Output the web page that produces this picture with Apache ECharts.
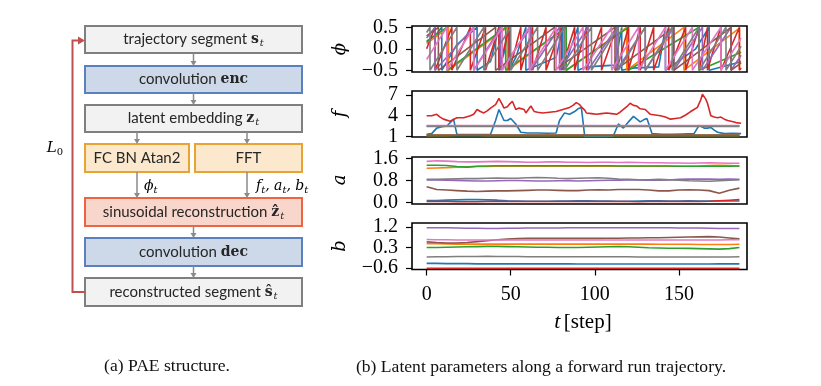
<!DOCTYPE html>
<html><head><meta charset="utf-8">
<script src="https://cdn.jsdelivr.net/npm/echarts@6/dist/echarts.min.js"></script>
<style>html,body{margin:0;padding:0;background:#fff}#c{width:821px;height:386px}</style>
</head><body><div id="c"></div>
<script>
// ---------------- DATA ----------------
const seriesNames = ['blue','orange','green','red','purple','brown','pink','gray'];
const colors = ['#1f77b4','#ff7f0e','#2ca02c','#d62728','#9467bd','#8c564b','#e377c2','#7f7f7f'];

// phase phi: [t, phi] vertices
const phiBlue = [[0,0.15],[6,0.35],[9,0.5],[9,-0.5],[18,0.1],[30,0.5],[30,-0.5],[38,-0.3],[43,0.5],[43,-0.5],[46,-0.1],[49,0.5],[49,-0.5],[53,-0.2],[59,0.5],[59,-0.5],[77,-0.2],[81,0.5],[81,-0.5],[90,0.5],[90,-0.5],[95,-0.42],[112,-0.38],[116,0.5],[116,-0.5],[122,-0.45],[138,-0.42],[142,0.5],[142,-0.5],[160,0.0],[168,0.5],[168,-0.5],[187,-0.3]];
const phiOrange = [[0,0.12],[13,0.5],[13,-0.5],[48,0.5],[48,-0.5],[83,0.5],[83,-0.5],[119,0.5],[119,-0.5],[153,0.5],[153,-0.5],[186,0.48],[186,-0.48],[187,-0.45]];
const phiGreen = [[0,0.18],[12,0.5],[12,-0.5],[47,0.5],[47,-0.5],[83,0.5],[83,-0.5],[120,0.5],[120,-0.5],[162,0.5],[162,-0.5],[187,-0.08]];
const phiRed = [[0,0.0],[5,0.5],[5,-0.5],[15,0.5],[15,-0.5],[26,0.5],[26,-0.5],[35,0.5],[35,-0.5],[43,0.5],[43,-0.5],[49,0.5],[49,-0.5],[52,-0.1],[56,0.5],[56,-0.5],[63,0.5],[63,-0.5],[71,0.5],[71,-0.5],[80,0.5],[80,-0.5],[88,0.5],[88,-0.5],[95,0.5],[95,-0.5],[104,0.5],[104,-0.5],[113,0.5],[113,-0.5],[120,0.5],[120,-0.5],[127,0.5],[127,-0.5],[135,0.5],[135,-0.5],[144,0.5],[144,-0.5],[154,0.5],[154,-0.5],[162,0.5],[162,-0.5],[167,0.5],[167,-0.5],[170,-0.1],[175,0.5],[175,-0.5],[186,0.5],[186,-0.5],[187,-0.45]];
const phiPurple = [[0,0.25],[5,0.5],[5,-0.5],[28,0.5],[28,-0.5],[44,0.5],[44,-0.5],[62,0.5],[62,-0.5],[79,0.5],[79,-0.5],[96,0.5],[96,-0.5],[113,0.5],[113,-0.5],[130,0.5],[130,-0.5],[147,0.5],[147,-0.5],[164,0.5],[164,-0.5],[181,0.5],[181,-0.5],[187,-0.15]];
const phiBrown = [[0,0.3],[7,0.5],[7,-0.5],[41,0.5],[41,-0.5],[76,0.5],[76,-0.5],[112,0.5],[112,-0.5],[147,0.5],[147,-0.5],[181,0.5],[181,-0.5],[187,-0.33]];
const phiPink = [[0,-0.25],[12,0.5],[12,-0.5],[28,0.5],[28,-0.5],[45,0.5],[45,-0.5],[61,0.5],[61,-0.5],[77,0.5],[77,-0.5],[93,0.5],[93,-0.5],[110,0.5],[110,-0.5],[126,0.5],[126,-0.5],[142,0.5],[142,-0.5],[158,0.5],[158,-0.5],[175,0.5],[175,-0.5],[187,0.25]];
const phiGray = [[0,0.38],[2,0.5],[2,-0.5],[18,0.5],[18,-0.5],[34,0.5],[34,-0.5],[50,0.5],[50,-0.5],[66,0.5],[66,-0.5],[82,0.5],[82,-0.5],[98,0.5],[98,-0.5],[114,0.5],[114,-0.5],[130,0.5],[130,-0.5],[146,0.5],[146,-0.5],[162,0.5],[162,-0.5],[178,0.5],[178,-0.5],[187,0.06]];

// sample times for the smooth parameters
const tSmooth = [0,6,12,18,24,30,36,42,48,54,60,66,72,78,84,90,96,102,108,114,120,126,132,138,144,150,156,162,168,174,180,186];

// frequency f
const fBlue = [[0,1.3],[3,1.4],[6,2.2],[9,2.4],[12,2.5],[14,3.0],[16,3.5],[18,1.3],[24,1.25],[30,1.25],[38,1.3],[41,3.3],[43,4.9],[46,3.3],[48,3.3],[50,3.6],[53,2.8],[56,1.6],[60,1.5],[66,1.5],[72,1.45],[77,1.5],[79,3.3],[82,4.4],[85,4.2],[88,4.6],[90,5.0],[92,5.2],[94,1.0],[100,1.0],[106,1.0],[111,1.05],[114,2.8],[117,2.2],[120,3.1],[123,3.9],[125,3.5],[127,3.1],[129,3.4],[131,3.6],[134,1.4],[140,1.3],[146,1.3],[152,1.35],[159,1.4],[162,2.6],[165,2.2],[167,2.2],[169,2.3],[171,1.9],[173,1.6],[177,1.4],[182,1.45],[187,1.4]];
const fRed = [[0,4.0],[3,4.0],[6,4.2],[8,3.8],[10,3.5],[14,3.2],[18,3.7],[22,3.7],[26,4.0],[28,4.2],[30,4.9],[32,4.6],[34,4.4],[36,4.7],[38,5.1],[41,5.6],[43,6.5],[45,5.6],[46,5.1],[48,5.3],[49,5.6],[51,6.1],[53,4.9],[55,5.1],[56,5.3],[58,4.9],[59,4.4],[62,5.4],[64,4.6],[66,4.5],[69,4.4],[73,4.5],[77,4.6],[81,4.9],[85,5.2],[87,5.5],[89,5.9],[91,5.6],[92,5.3],[94,4.8],[95,4.4],[98,4.3],[101,4.2],[104,4.3],[107,4.4],[110,4.3],[113,4.2],[115,4.5],[117,4.9],[119,5.3],[121,5.8],[123,5.5],[125,5.4],[127,5.0],[128,5.2],[130,4.9],[133,4.2],[136,4.1],[139,4.0],[142,3.8],[145,3.5],[148,3.6],[151,3.7],[154,4.1],[157,4.6],[159,4.9],[161,5.2],[163,6.3],[164,7.1],[166,6.4],[167,5.8],[169,4.0],[171,3.8],[173,3.7],[175,3.8],[177,3.5],[179,3.3],[181,3.2],[184,3.0],[187,2.9]];
const fOrange = [1.15,1.15,1.15,1.16,1.16,1.16,1.15,1.15,1.15,1.15,1.15,1.15,1.15,1.15,1.15,1.15,1.15,1.15,1.15,1.15,1.15,1.15,1.15,1.15,1.15,1.15,1.15,1.15,1.15,1.15,1.15,1.15];
const fGreen = [1.12,1.12,1.12,1.12,1.12,1.12,1.12,1.12,1.12,1.12,1.12,1.12,1.12,1.12,1.12,1.12,1.12,1.12,1.12,1.12,1.12,1.12,1.12,1.12,1.12,1.12,1.12,1.12,1.12,1.12,1.12,1.12];
const fPurple = [2.52,2.52,2.52,2.52,2.52,2.52,2.52,2.52,2.52,2.52,2.52,2.52,2.52,2.52,2.52,2.52,2.52,2.52,2.52,2.52,2.52,2.52,2.52,2.52,2.52,2.52,2.52,2.52,2.52,2.52,2.52,2.52];
const fBrown = [1.2,1.2,1.2,1.2,1.2,1.2,1.2,1.2,1.2,1.2,1.2,1.2,1.2,1.2,1.2,1.2,1.2,1.2,1.2,1.2,1.2,1.2,1.2,1.2,1.2,1.2,1.2,1.2,1.2,1.2,1.2,1.2];
const fPink = [2.57,2.57,2.57,2.57,2.57,2.57,2.57,2.57,2.57,2.57,2.57,2.57,2.57,2.57,2.57,2.57,2.57,2.57,2.57,2.57,2.57,2.57,2.57,2.57,2.57,2.57,2.57,2.57,2.57,2.57,2.57,2.57];
const fGray = [2.45,2.45,2.45,2.45,2.45,2.45,2.45,2.45,2.45,2.45,2.45,2.45,2.45,2.45,2.45,2.45,2.45,2.45,2.45,2.45,2.45,2.45,2.45,2.45,2.45,2.45,2.45,2.45,2.45,2.45,2.45,2.45];

// amplitude a
const aBlue = [0.07,0.07,0.08,0.09,0.10,0.10,0.09,0.08,0.06,0.05,0.04,0.04,0.04,0.05,0.05,0.06,0.06,0.05,0.05,0.04,0.04,0.05,0.06,0.06,0.05,0.05,0.06,0.05,0.05,0.05,0.05,0.05];
const aOrange = [1.25,1.26,1.27,1.29,1.30,1.31,1.31,1.32,1.32,1.32,1.32,1.32,1.32,1.32,1.32,1.32,1.32,1.32,1.32,1.32,1.32,1.32,1.32,1.32,1.32,1.32,1.32,1.33,1.35,1.36,1.35,1.33];
const aGreen = [1.36,1.36,1.35,1.31,1.29,1.32,1.33,1.34,1.34,1.34,1.34,1.34,1.34,1.34,1.34,1.34,1.34,1.34,1.34,1.33,1.33,1.33,1.33,1.33,1.33,1.32,1.32,1.32,1.32,1.32,1.32,1.33];
const aRed = [0.03,0.03,0.03,0.02,0.02,0.02,0.03,0.03,0.03,0.03,0.03,0.03,0.03,0.03,0.03,0.03,0.03,0.03,0.03,0.03,0.03,0.02,0.03,0.03,0.03,0.03,0.03,0.03,0.04,0.06,0.08,0.10];
const aPurple = [0.82,0.82,0.81,0.80,0.79,0.78,0.78,0.79,0.80,0.80,0.79,0.78,0.78,0.79,0.79,0.78,0.79,0.80,0.81,0.81,0.82,0.82,0.81,0.81,0.82,0.84,0.85,0.85,0.85,0.84,0.85,0.84];
const aBrown = [0.57,0.47,0.45,0.43,0.41,0.40,0.41,0.42,0.42,0.43,0.44,0.45,0.45,0.44,0.43,0.43,0.45,0.46,0.45,0.47,0.47,0.47,0.45,0.42,0.42,0.45,0.46,0.45,0.43,0.33,0.44,0.52];
const aPink = [1.50,1.52,1.51,1.49,1.48,1.48,1.49,1.50,1.49,1.48,1.47,1.47,1.48,1.48,1.47,1.47,1.46,1.47,1.47,1.46,1.47,1.46,1.45,1.45,1.44,1.44,1.43,1.44,1.45,1.44,1.43,1.43];
const aGray = [0.84,0.84,0.85,0.86,0.87,0.87,0.88,0.89,0.88,0.88,0.90,0.91,0.90,0.88,0.87,0.88,0.89,0.90,0.88,0.85,0.84,0.83,0.83,0.84,0.83,0.81,0.79,0.78,0.77,0.79,0.81,0.83];

// offset b
const bBlue = [-0.40,-0.40,-0.41,-0.41,-0.41,-0.42,-0.42,-0.42,-0.42,-0.42,-0.42,-0.42,-0.42,-0.42,-0.42,-0.43,-0.43,-0.43,-0.43,-0.43,-0.43,-0.43,-0.43,-0.43,-0.43,-0.43,-0.43,-0.43,-0.43,-0.42,-0.42,-0.42];
const bOrange = [0.47,0.47,0.46,0.45,0.45,0.45,0.45,0.45,0.45,0.45,0.45,0.45,0.45,0.45,0.45,0.45,0.45,0.45,0.45,0.45,0.45,0.45,0.45,0.44,0.44,0.44,0.44,0.43,0.43,0.43,0.43,0.44];
const bGreen = [0.30,0.30,0.31,0.32,0.33,0.34,0.35,0.35,0.34,0.33,0.32,0.31,0.31,0.30,0.30,0.30,0.31,0.32,0.33,0.34,0.33,0.31,0.29,0.28,0.27,0.27,0.26,0.25,0.24,0.23,0.25,0.30];
const bRed = [-0.62,-0.62,-0.62,-0.62,-0.62,-0.62,-0.62,-0.62,-0.62,-0.62,-0.62,-0.62,-0.62,-0.62,-0.62,-0.62,-0.62,-0.62,-0.62,-0.62,-0.62,-0.62,-0.62,-0.62,-0.62,-0.62,-0.62,-0.62,-0.62,-0.62,-0.62,-0.62];
const bPurple = [1.17,1.17,1.17,1.16,1.15,1.15,1.14,1.14,1.15,1.15,1.16,1.16,1.16,1.16,1.17,1.17,1.17,1.17,1.17,1.17,1.17,1.17,1.17,1.17,1.17,1.16,1.16,1.16,1.15,1.14,1.14,1.14];
const bBrown = [0.55,0.52,0.50,0.50,0.52,0.56,0.60,0.64,0.67,0.69,0.70,0.70,0.70,0.70,0.70,0.70,0.70,0.70,0.71,0.71,0.72,0.72,0.73,0.73,0.74,0.75,0.76,0.77,0.78,0.76,0.72,0.68];
const bPink = [0.65,0.64,0.64,0.63,0.63,0.63,0.63,0.63,0.63,0.63,0.63,0.63,0.63,0.63,0.63,0.63,0.63,0.63,0.63,0.63,0.63,0.63,0.63,0.63,0.63,0.63,0.63,0.63,0.63,0.63,0.64,0.64];
const bGray = [-0.12,-0.11,-0.11,-0.10,-0.10,-0.10,-0.09,-0.10,-0.10,-0.10,-0.11,-0.11,-0.11,-0.11,-0.11,-0.11,-0.11,-0.11,-0.11,-0.11,-0.11,-0.12,-0.12,-0.12,-0.12,-0.12,-0.12,-0.12,-0.12,-0.12,-0.12,-0.11];

const xTicks = [0,50,100,150];
const phiTicks = [-0.5,0,0.5];
const fTicks = [1,4,7];
const aTicks = [0,0.8,1.6];
const bTicks = [-0.6,0.3,1.2];

// ---------------- BUILD ----------------
const pair = arr => tSmooth.map((t,i)=>[t,arr[i]]);
const panels = [
  [phiBlue,phiOrange,phiGreen,phiRed,phiPurple,phiBrown,phiPink,phiGray],
  [fBlue,pair(fOrange),pair(fGreen),fRed,pair(fPurple),pair(fBrown),pair(fPink),pair(fGray)],
  [aBlue,aOrange,aGreen,aRed,aPurple,aBrown,aPink,aGray].map(pair),
  [bBlue,bOrange,bGreen,bRed,bPurple,bBrown,bPink,bGray].map(pair)
];
const gridTops = [26,91,157,223];
const gridHeights = [46,46,47,46.5];
const yRanges = [[-0.54,0.53],[0.91,7.58],[-0.06,1.66],[-0.67,1.38]];
const yTickSets = [phiTicks,fTicks,aTicks,bTicks];
const fmtSigned = v => (v<0?'\u2212':'') + Math.abs(v).toFixed(1);
const yFormatters = [fmtSigned, v=>String(Math.round(v)), v=>v.toFixed(1), fmtSigned];
const tickFont = {fontFamily:'Liberation Serif', fontSize:20, color:'#000'};

const grid=[], xAxis=[], yAxis=[], series=[];
for (let p=0;p<4;p++){
  grid.push({left:412, width:335, top:gridTops[p], height:gridHeights[p], show:true, borderColor:'#000', borderWidth:1.6, backgroundColor:'transparent'});
  const last = p===3;
  xAxis.push({type:'value', gridIndex:p, min:-8.7, max:190.5,
    axisLine:{show:false, onZero:false}, splitLine:{show:false},
    axisTick:{show:last, inside:false, length:6, lineStyle:{color:'#000', width:1.2}, customValues:xTicks},
    axisLabel:{show:last, margin:15, customValues:xTicks, formatter:v=>String(v), ...tickFont}});
  yAxis.push({type:'value', gridIndex:p, min:yRanges[p][0], max:yRanges[p][1],
    axisLine:{show:false, onZero:false}, splitLine:{show:false},
    axisTick:{show:true, inside:false, length:6, lineStyle:{color:'#000', width:1.2}, customValues:yTickSets[p]},
    axisLabel:{show:true, margin:14, customValues:yTickSets[p], formatter:yFormatters[p], ...tickFont}});
  panels[p].forEach((d,i)=>{
    series.push({type:'line', xAxisIndex:p, yAxisIndex:p, data:d, showSymbol:false, symbol:'none',
      lineStyle:{color:colors[i], width:1.6}, itemStyle:{color:colors[i]}, clip:true, silent:true, z:2+i});
  });
}

// ---------------- DIAGRAM (graphic) ----------------
const G = [];
const txtC = '#262626';
const boxStyles = {
  gray:{fill:'#f2f2f2', stroke:'#7f7f7f'},
  blue:{fill:'#cdd8e8', stroke:'#5b80bf'},
  orange:{fill:'#fbe8cd', stroke:'#e8a332'},
  red:{fill:'#f9d6cc', stroke:'#ec6440'}
};
function box(x,y,w,h,kind){
  G.push({type:'rect', shape:{x:x,y:y,width:w,height:h}, style:{fill:boxStyles[kind].fill, stroke:boxStyles[kind].stroke, lineWidth:2}, z:10});
}
const rich = {
  n:{fontFamily:'Lato', fontSize:15, color:txtC},
  m:{fontFamily:'DejaVu Serif', fontWeight:'bold', fontSize:14, color:txtC},
  s:{fontFamily:'DejaVu Serif', fontStyle:'italic', fontSize:10, color:txtC, padding:[8,0,0,1]}
};
function label(x,y,text){
  G.push({type:'text', x:x, y:y, z:12, style:{text:text, rich:rich, align:'center', textAlign:'center', verticalAlign:'middle', textVerticalAlign:'middle', fontFamily:'Lato', fontSize:15, fill:txtC}});
}
function vArrow(x,y1,y2,color){
  G.push({type:'line', shape:{x1:x,y1:y1,x2:x,y2:y2-4}, style:{stroke:color, lineWidth:1.5}, z:11});
  G.push({type:'polygon', shape:{points:[[x-3,y2-5],[x+3,y2-5],[x,y2]]}, style:{fill:color}, z:11});
}
const BX=85, BW=217, CX=193.5, AC='#8a8a8a';
box(BX,26,BW,27,'gray');   label(CX,39.5,'{n|trajectory segment }{m|s}{s|t}');
box(BX,66,BW,27,'blue');   label(CX,79.5,'{n|convolution }{m|enc}');
box(BX,105,BW,27,'gray');  label(CX,118.5,'{n|latent embedding }{m|z}{s|t}');
box(BX,144,104,28,'orange'); label(137,158,'{n|FC BN Atan2}');
box(195,144,107,28,'orange'); label(248.5,158,'{n|FFT}');
box(BX,198,BW,28,'red');   label(CX,212,'{n|sinusoidal reconstruction }{m|\u1E91}{s|t}');
box(BX,238,BW,28,'blue');  label(CX,252,'{n|convolution }{m|dec}');
box(BX,278,BW,28,'gray');  label(CX,292,'{n|reconstructed segment }{m|\u015D}{s|t}');
vArrow(CX,53,66,AC); vArrow(CX,93,105,AC);
vArrow(137,132,144,AC); vArrow(247,132,144,AC);
vArrow(137,172,198,AC); vArrow(247,172,198,AC);
vArrow(CX,226,238,AC); vArrow(CX,266,278,AC);
const mathRich = {
  i:{fontFamily:'DejaVu Serif', fontStyle:'italic', fontSize:14, color:txtC},
  s:{fontFamily:'DejaVu Serif', fontStyle:'italic', fontSize:10, color:txtC, padding:[8,0,0,0]},
  ri:{fontFamily:'DejaVu Serif', fontStyle:'italic', fontSize:15, color:'#c0504d'},
  rs:{fontFamily:'DejaVu Serif', fontSize:10, color:'#c0504d', padding:[9,0,0,0]}
};
G.push({type:'text', x:144, y:186, z:12, style:{text:'{i|\u03D5}{s|t}', rich:mathRich, align:'left', textAlign:'left', verticalAlign:'middle', textVerticalAlign:'middle'}});
G.push({type:'text', x:256, y:186, z:12, style:{text:'{i|f}{s|t}{i|, a}{s|t}{i|, b}{s|t}', rich:mathRich, align:'left', textAlign:'left', verticalAlign:'middle', textVerticalAlign:'middle'}});
// red loss loop
const RC='#c0504d';
G.push({type:'polyline', shape:{points:[[85,292],[72.5,292],[72.5,40.5],[79,40.5]]}, style:{stroke:RC, lineWidth:2, fill:null}, z:11});
G.push({type:'polygon', shape:{points:[[85,40.5],[78,36.5],[78,44.5]]}, style:{fill:RC}, z:11});
G.push({type:'text', x:55, y:148, z:12, style:{text:'{ri|L}{rs|0}', rich:mathRich, align:'center', textAlign:'center', verticalAlign:'middle', textVerticalAlign:'middle'}});

// chart axis titles
const axFont = {fontFamily:'DejaVu Serif', fontStyle:'italic', fontSize:18, fill:'#000'};
[['\u03D5',49],['f',114],['a',180],['b',246]].forEach(([t,y])=>{
  G.push({type:'text', x:340, y:y, rotation:Math.PI/2, z:12, style:Object.assign({text:t, align:'center', textAlign:'center', verticalAlign:'middle', textVerticalAlign:'middle'}, axFont)});
});
G.push({type:'text', x:583, y:322, z:12, style:{text:'{i|t} {n|[step]}', align:'center', textAlign:'center', verticalAlign:'middle', textVerticalAlign:'middle',
  rich:{i:{fontFamily:'Liberation Serif', fontStyle:'italic', fontSize:22, color:'#000'}, n:{fontFamily:'Liberation Serif', fontSize:21, color:'#000'}}}});
// captions
const capFont = {fontFamily:'Liberation Serif', fontSize:17.6, fill:'#111'};
G.push({type:'text', x:167, y:366, z:12, style:Object.assign({text:'(a) PAE structure.', align:'center', textAlign:'center', verticalAlign:'middle', textVerticalAlign:'middle'}, capFont)});
G.push({type:'text', x:541, y:367, z:12, style:Object.assign({text:'(b) Latent parameters along a forward run trajectory.', align:'center', textAlign:'center', verticalAlign:'middle', textVerticalAlign:'middle'}, capFont)});

const chart = echarts.init(document.getElementById('c'), null, {renderer:'canvas', width:821, height:386});
chart.setOption({backgroundColor:'#fff', animation:false, grid, xAxis, yAxis, series, graphic:{elements:G}});
</script></body></html>
